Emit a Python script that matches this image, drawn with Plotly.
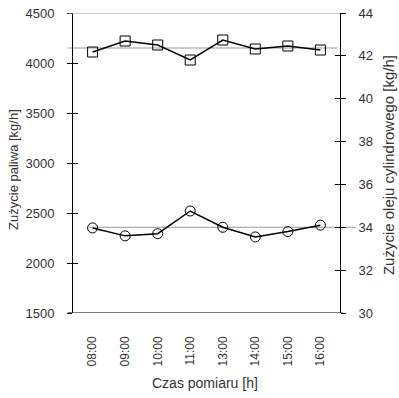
import plotly.graph_objects as go

categories = ["08:00", "09:00", "10:00", "11:00", "13:00", "14:00", "15:00", "16:00"]
fuel = [4110, 4220, 4180, 4030, 4230, 4140, 4170, 4130]
oil = [33.97, 33.6, 33.7, 34.76, 34.0, 33.55, 33.8, 34.1]
fuel_ref = 4150
oil_ref = 34

font = dict(family="Liberation Sans, Arial, sans-serif", size=12, color="#333")

fig = go.Figure()
fig.add_trace(go.Scatter(x=categories, y=fuel, mode="lines+markers", yaxis="y",
                         line=dict(color="black", width=1.5),
                         marker=dict(symbol="square-open", size=10, color="black", line=dict(width=1)),
                         showlegend=False))
fig.add_trace(go.Scatter(x=categories, y=oil, mode="lines+markers", yaxis="y2",
                         line=dict(color="black", width=1.5),
                         marker=dict(symbol="circle-open", size=10, color="black", line=dict(width=1)),
                         showlegend=False))
fig.add_trace(go.Scatter(x=[categories[0]], y=[None], yaxis="y3", showlegend=False, hoverinfo="skip"))
fig.add_trace(go.Scatter(x=[categories[0]], y=[None], yaxis="y4", showlegend=False, hoverinfo="skip"))

fig.add_shape(type="line", xref="paper", yref="y", x0=-0.02, x1=0.99, y0=fuel_ref, y1=fuel_ref,
              line=dict(color="#999", width=1), layer="below")
fig.add_shape(type="line", xref="paper", yref="y2", x0=0.06, x1=1.06, y0=oil_ref, y1=oil_ref,
              line=dict(color="#999", width=1), layer="below")
fig.add_shape(type="line", xref="paper", yref="y", x0=-0.02, x1=1.0, y0=4500, y1=4500,
              line=dict(color="#999", width=1))
fig.add_shape(type="line", xref="paper", yref="y", x0=-0.02, x1=1.01, y0=1500, y1=1500,
              line=dict(color="black", width=1))

title_font = dict(family="Liberation Sans, Arial, sans-serif", size=13, color="#333")
fig.add_annotation(text="Czas pomiaru [h]", xref="paper", yref="paper", x=0.494, y=0,
                   yshift=-70, showarrow=False, font=dict(title_font, size=14),
                   xanchor="center", yanchor="middle")
fig.add_annotation(text="Zużycie paliwa [kg/h]", xref="paper", yref="paper", x=0, y=0.477,
                   xshift=-59, textangle=-90, showarrow=False, font=title_font,
                   xanchor="center", yanchor="middle")
fig.add_annotation(text="Zużycie oleju cylindrowego [kg/h]", xref="paper", yref="paper", x=1, y=0.493,
                   xshift=48, textangle=-90, showarrow=False, font=dict(title_font, size=15),
                   xanchor="center", yanchor="middle")

fig.update_layout(
    width=399, height=398,
    margin=dict(l=73, r=59, t=13, b=85),
    paper_bgcolor="white", plot_bgcolor="white",
    font=font,
    xaxis=dict(type="category", tickangle=-90, showgrid=False, ticks="", showline=False,
               ticklabelstandoff=20, tickfont=dict(size=12), automargin=False),
    yaxis=dict(range=[1500, 4500], dtick=500, showgrid=False, zeroline=False,
               showline=True, linecolor="black", linewidth=1, automargin=False,
               ticks="outside", ticklen=5, tickcolor="black", ticklabelstandoff=10,
               tickfont=dict(size=13)),
    yaxis2=dict(range=[30, 44], dtick=2, overlaying="y", side="right", showgrid=False, zeroline=False,
                showline=True, linecolor="black", linewidth=1, automargin=False,
                ticks="outside", ticklen=5, tickcolor="black", ticklabelstandoff=10,
                tickfont=dict(size=13)),
    yaxis3=dict(range=[1500, 4500], dtick=500, overlaying="y", side="left", showgrid=False,
                zeroline=False, showline=False, ticks="inside", ticklen=5, tickcolor="black",
                showticklabels=False, automargin=False),
    yaxis4=dict(range=[30, 44], dtick=2, overlaying="y", side="right", showgrid=False,
                zeroline=False, showline=False, ticks="inside", ticklen=5, tickcolor="black",
                showticklabels=False, automargin=False),
)

fig.write_html("out.html")
